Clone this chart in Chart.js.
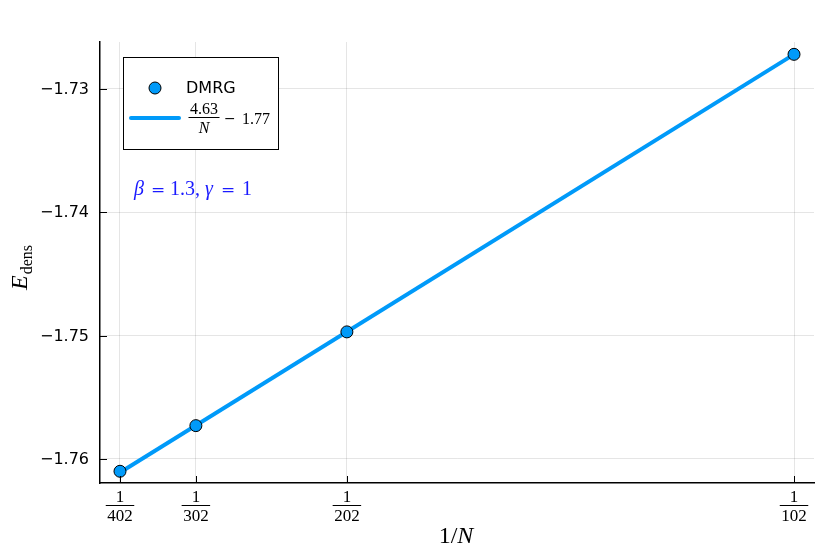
<!DOCTYPE html>
<html>
<head>
<meta charset="utf-8">
<script src="https://cdn.jsdelivr.net/npm/chart.js@4"></script>
<style>
  html, body { margin: 0; padding: 0; background: #fff; }
  canvas { display: block; }
</style>
</head>
<body>
<canvas id="fit-chart" width="830" height="554"></canvas>
<script>
// system sizes N, the x axis is 1/N
var sizes = [402, 302, 202, 102];
var dmrgEnergy = [-1.7610, -1.7573, -1.7497, -1.7272];
// fit 4.63/N - 1.77, read at both ends
var fitSizes = [402, 102];
var fitEnergy = [-1.7611, -1.7272];
var yTicks = [-1.73, -1.74, -1.75, -1.76];
var yTickLabels = ['\u22121.73', '\u22121.74', '\u22121.75', '\u22121.76'];

var blue = '#009af9';
var serif = '"Liberation Serif", "DejaVu Serif", serif';
var sans = '"DejaVu Sans", sans-serif';

function toPoints(ns, es) {
  return ns.map(function (n, i) { return { x: 1 / n, y: es[i] }; });
}

// stacked fraction: numerator, rule, denominator
function drawFrac(ctx, num, den, cx, numBase, barY, denBase, size, italicDen) {
  ctx.textAlign = 'center';
  ctx.textBaseline = 'alphabetic';
  ctx.font = size + 'px ' + serif;
  var wn = ctx.measureText(num).width;
  ctx.fillText(num, cx, numBase);
  ctx.font = (italicDen ? 'italic ' : '') + size + 'px ' + serif;
  var wd = ctx.measureText(den).width;
  ctx.fillText(den, cx, denBase);
  var w = Math.max(wn, wd) + 3;
  ctx.fillRect(cx - w / 2, barY, w, 1);
}

var extras = {
  id: 'extras',
  afterDraw: function (chart) {
    var ctx = chart.ctx;
    var xs = chart.scales.x, ys = chart.scales.y;
    var area = chart.chartArea;
    ctx.save();
    ctx.fillStyle = '#000';
    ctx.strokeStyle = '#000';
    ctx.lineWidth = 1;

    // inward tick marks
    ctx.beginPath();
    yTicks.forEach(function (v) {
      var py = Math.round(ys.getPixelForValue(v)) + 0.5;
      ctx.moveTo(area.left, py);
      ctx.lineTo(area.left + 7, py);
    });
    sizes.forEach(function (n) {
      var px = Math.round(xs.getPixelForValue(1 / n)) + 0.5;
      ctx.moveTo(px, area.bottom);
      ctx.lineTo(px, area.bottom - 7);
    });
    ctx.stroke();

    // y tick labels
    ctx.font = '16px ' + sans;
    ctx.textAlign = 'right';
    ctx.textBaseline = 'middle';
    yTicks.forEach(function (v, i) {
      ctx.fillText(yTickLabels[i], area.left - 11, ys.getPixelForValue(v) + 1);
    });

    // x tick labels as fractions
    sizes.forEach(function (n) {
      drawFrac(ctx, '1', String(n), xs.getPixelForValue(1 / n), 502, 505, 521, 17, false);
    });

    // x title 1/N
    ctx.textAlign = 'left';
    ctx.textBaseline = 'alphabetic';
    ctx.font = '24px ' + serif;
    var w1 = ctx.measureText('1/').width;
    ctx.font = 'italic 24px ' + serif;
    var w2 = ctx.measureText('N').width;
    var sx = 456 - (w1 + w2) / 2;
    ctx.font = '24px ' + serif;
    ctx.fillText('1/', sx, 543);
    ctx.font = 'italic 24px ' + serif;
    ctx.fillText('N', sx + w1, 543);

    // y title E_dens
    ctx.save();
    ctx.translate(27, 268);
    ctx.rotate(-Math.PI / 2);
    ctx.font = 'italic 24px ' + serif;
    var we = ctx.measureText('E').width;
    ctx.font = '16px ' + serif;
    var wd = ctx.measureText('dens').width;
    var ex = -(we + wd) / 2;
    ctx.font = 'italic 24px ' + serif;
    ctx.fillText('E', ex, 0);
    ctx.font = '16px ' + serif;
    ctx.fillText('dens', ex + we + 1, 5);
    ctx.restore();

    // legend
    ctx.fillStyle = '#fff';
    ctx.fillRect(123, 57, 155, 92);
    ctx.strokeRect(123.5, 57.5, 155, 92);
    ctx.beginPath();
    ctx.arc(155, 88, 6, 0, Math.PI * 2);
    ctx.fillStyle = blue;
    ctx.fill();
    ctx.stroke();
    ctx.fillStyle = '#000';
    ctx.font = '16px ' + sans;
    ctx.textAlign = 'left';
    ctx.textBaseline = 'middle';
    ctx.fillText('DMRG', 186, 89);
    ctx.strokeStyle = blue;
    ctx.lineWidth = 4;
    ctx.lineCap = 'round';
    ctx.beginPath();
    ctx.moveTo(131, 118);
    ctx.lineTo(179, 118);
    ctx.stroke();
    drawFrac(ctx, '4.63', 'N', 204, 114, 117, 133, 16, true);
    ctx.textAlign = 'left';
    ctx.font = '14px "DejaVu Serif", serif';
    ctx.fillText('\u2212', 224, 123);
    ctx.font = '16px ' + serif;
    ctx.fillText('1.77', 242, 124);

    // parameter note
    ctx.fillStyle = '#1a1aff';
    var note = [
      ['\u03b2', 134, 'i'], ['=', 151, 'e'], ['1.3,', 170, 'r'],
      ['\u03b3', 205, 'i'], ['=', 221, 'e'], ['1', 242, 'r']
    ];
    note.forEach(function (p) {
      if (p[2] === 'e') ctx.font = '17px "DejaVu Serif", serif';
      else ctx.font = (p[2] === 'i' ? 'italic ' : '') + '20px ' + serif;
      ctx.fillText(p[0], p[1], 195);
    });
    ctx.restore();
  }
};

var chartCanvas = document.getElementById('fit-chart');
var chartContext = chartCanvas.getContext('2d');

new Chart(chartContext, {
  type: 'scatter',
  data: {
    datasets: [{
      label: 'DMRG',
      data: toPoints(sizes, dmrgEnergy),
      showLine: false,
      pointRadius: 6,
      pointBackgroundColor: blue,
      pointBorderColor: '#000',
      pointBorderWidth: 1
    }, {
      label: '4.63/N - 1.77',
      data: toPoints(fitSizes, fitEnergy),
      showLine: true,
      borderColor: blue,
      borderWidth: 4,
      pointRadius: 0
    }]
  },
  options: {
    responsive: false,
    animation: false,
    layout: { padding: { left: 100, right: 16, top: 42, bottom: 71 } },
    plugins: { legend: { display: false }, tooltip: { enabled: false } },
    scales: {
      x: {
        type: 'linear',
        min: 0.0022705,
        max: 0.010021,
        afterBuildTicks: function (scale) {
          scale.ticks = sizes.map(function (n) { return { value: 1 / n }; });
        },
        ticks: { display: false },
        grid: { color: 'rgba(0,0,0,0.1)', drawTicks: false },
        border: { color: '#000', width: 1.5 }
      },
      y: {
        min: -1.76195,
        max: -1.7262,
        afterBuildTicks: function (scale) {
          scale.ticks = yTicks.map(function (v) { return { value: v }; });
        },
        ticks: { display: false },
        grid: { color: 'rgba(0,0,0,0.1)', drawTicks: false },
        border: { color: '#000', width: 1.5 }
      }
    }
  },
  plugins: [extras]
});
</script>
</body>
</html>
